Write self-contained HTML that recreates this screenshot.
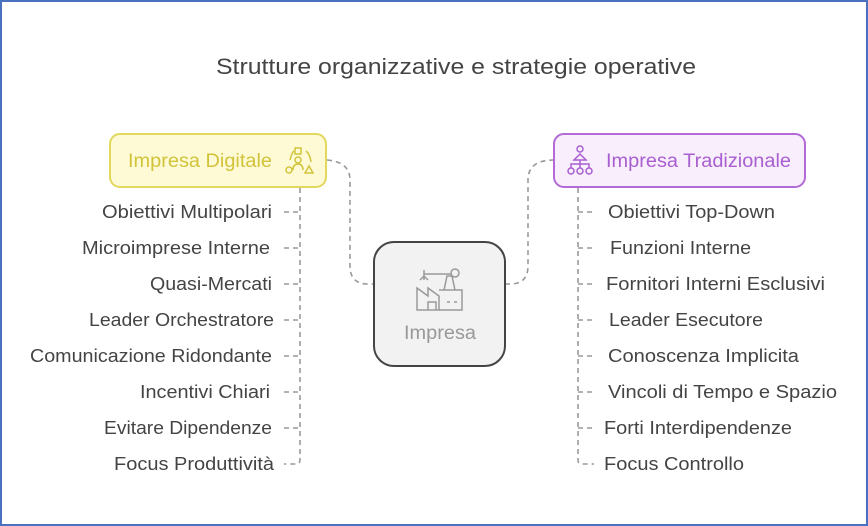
<!DOCTYPE html>
<html><head><meta charset="utf-8"><style>
html,body{margin:0;padding:0;background:#fff}
svg{display:block}
text{font-family:"Liberation Sans",sans-serif}
</style></head><body>
<svg width="868" height="526" viewBox="0 0 868 526" xmlns="http://www.w3.org/2000/svg">
<rect x="1" y="1" width="866" height="524" fill="#fff" stroke="#4a70c0" stroke-width="2"/>
<text x="216" y="74" font-size="22" fill="#444" textLength="480" lengthAdjust="spacingAndGlyphs">Strutture organizzative e strategie operative</text>
<g fill="none" stroke="#999" stroke-width="1.6" stroke-dasharray="5,4">
<path d="M327,160 Q350,162 350,180 L350,266 Q350,284 368,284 L374,284"/>
<path d="M505,284 L510,284 Q528,284 528,266 L528,180 Q528,160 554,160"/>
<path d="M300,188 L300,460 Q300,464 296,464 L284,464"/>
<path d="M578,188 L578,460 Q578,464 582,464 L594,464"/>
<path d="M284,212H300M284,248H300M284,284H300M284,320H300M284,356H300M284,392H300M284,428H300"/>
<path d="M578,212H594M578,248H594M578,284H594M578,320H594M578,356H594M578,392H594M578,428H594"/>
</g>
<rect x="110" y="134" width="216" height="53" rx="10" fill="#fdfad5" stroke="#e2d85c" stroke-width="2"/>
<text x="128" y="167" font-size="19" fill="#d2c43a" textLength="144" lengthAdjust="spacingAndGlyphs">Impresa Digitale</text>
<g fill="none" stroke="#d2c43a" stroke-width="1.5">
<rect x="295" y="148" width="6" height="6"/><circle cx="298" cy="160" r="3"/><path d="M293,170 Q293,164 298,164 Q303,164 303,170"/>
<circle cx="289" cy="170" r="3"/><path d="M305,173 L309,166 L313,173Z"/><path d="M290,160 Q292,152 294,151 M306,151 Q310,154 311,162"/>
</g>
<rect x="554" y="134" width="251" height="53" rx="10" fill="#f8eefc" stroke="#b46ad6" stroke-width="2"/>
<text x="606" y="167" font-size="19" fill="#a95fd0" textLength="185" lengthAdjust="spacingAndGlyphs">Impresa Tradizionale</text>
<g fill="none" stroke="#a95fd0" stroke-width="1.5">
<circle cx="580" cy="149" r="3"/><path d="M574,160 L580,154 L586,160Z"/><path d="M580,160V164M571,168V164H589V168M580,164V168"/>
<circle cx="571" cy="171" r="3"/><circle cx="580" cy="171" r="3"/><circle cx="589" cy="171" r="3"/>
</g>
<rect x="374" y="242" width="131" height="124" rx="20" fill="#f2f2f2" stroke="#444" stroke-width="2"/>
<g fill="none" stroke="#999" stroke-width="1.5">
<path d="M417,310V288L428,296V288L439,296V310H417Z"/><path d="M439,310H462V290H439"/><path d="M428,310V302H436V310M447,302H450M454,302H457"/>
<path d="M444,290L447,276H452L455,290"/><circle cx="455" cy="273" r="4"/><path d="M424,274H452"/><path d="M424,270V280M420,280L424,276L428,280"/>
</g>
<text x="404" y="339" font-size="19" fill="#999" textLength="72" lengthAdjust="spacingAndGlyphs">Impresa</text>
<g font-size="18" fill="#444">
<text x="102" y="218" textLength="170" lengthAdjust="spacingAndGlyphs">Obiettivi Multipolari</text>
<text x="82" y="254" textLength="188" lengthAdjust="spacingAndGlyphs">Microimprese Interne</text>
<text x="150" y="290" textLength="122" lengthAdjust="spacingAndGlyphs">Quasi-Mercati</text>
<text x="89" y="326" textLength="185" lengthAdjust="spacingAndGlyphs">Leader Orchestratore</text>
<text x="30" y="362" textLength="242" lengthAdjust="spacingAndGlyphs">Comunicazione Ridondante</text>
<text x="140" y="398" textLength="130" lengthAdjust="spacingAndGlyphs">Incentivi Chiari</text>
<text x="104" y="434" textLength="168" lengthAdjust="spacingAndGlyphs">Evitare Dipendenze</text>
<text x="114" y="470" textLength="160" lengthAdjust="spacingAndGlyphs">Focus Produttività</text>
<text x="608" y="218" textLength="167" lengthAdjust="spacingAndGlyphs">Obiettivi Top-Down</text>
<text x="610" y="254" textLength="141" lengthAdjust="spacingAndGlyphs">Funzioni Interne</text>
<text x="606" y="290" textLength="219" lengthAdjust="spacingAndGlyphs">Fornitori Interni Esclusivi</text>
<text x="609" y="326" textLength="154" lengthAdjust="spacingAndGlyphs">Leader Esecutore</text>
<text x="608" y="362" textLength="191" lengthAdjust="spacingAndGlyphs">Conoscenza Implicita</text>
<text x="608" y="398" textLength="229" lengthAdjust="spacingAndGlyphs">Vincoli di Tempo e Spazio</text>
<text x="604" y="434" textLength="188" lengthAdjust="spacingAndGlyphs">Forti Interdipendenze</text>
<text x="604" y="470" textLength="140" lengthAdjust="spacingAndGlyphs">Focus Controllo</text>
</g>
</svg>
</body></html>
